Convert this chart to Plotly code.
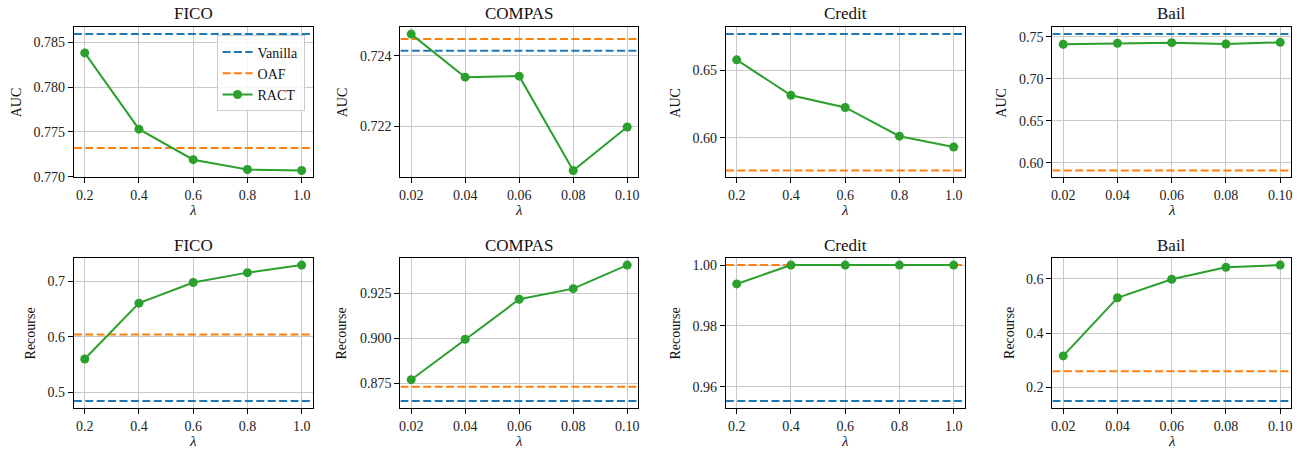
import plotly.graph_objects as go

# ---- data -------------------------------------------------------------
lam_large = [0.2, 0.4, 0.6, 0.8, 1.0]        # FICO, Credit
lam_small = [0.02, 0.04, 0.06, 0.08, 0.10]   # COMPAS, Bail

datasets = ["FICO", "COMPAS", "Credit", "Bail"]

fico_auc_ract = [0.7838, 0.7753, 0.7719, 0.7708, 0.7707]
fico_auc_vanilla = 0.7859
fico_auc_oaf = 0.7732

compas_auc_ract = [0.72461, 0.72339, 0.72342, 0.72075, 0.72198]
compas_auc_vanilla = 0.72414
compas_auc_oaf = 0.72447

credit_auc_ract = [0.6578, 0.6315, 0.6225, 0.6012, 0.5932]
credit_auc_vanilla = 0.6769
credit_auc_oaf = 0.5758

bail_auc_ract = [0.7411, 0.7423, 0.7430, 0.7414, 0.7434]
bail_auc_vanilla = 0.7532
bail_auc_oaf = 0.5911

fico_rec_ract = [0.5602, 0.6610, 0.6982, 0.7160, 0.7296]
fico_rec_vanilla = 0.4847
fico_rec_oaf = 0.6046

compas_rec_ract = [0.8770, 0.8995, 0.9217, 0.9276, 0.9407]
compas_rec_vanilla = 0.8652
compas_rec_oaf = 0.8731

credit_rec_ract = [0.9938, 1.0, 1.0, 1.0, 1.0]
credit_rec_vanilla = 0.9553
credit_rec_oaf = 1.0

bail_rec_ract = [0.3153, 0.5303, 0.5989, 0.6427, 0.6511]
bail_rec_vanilla = 0.1489
bail_rec_oaf = 0.2584

# tick labels
x_ticks_large = [0.2, 0.4, 0.6, 0.8, 1.0]
x_ticks_small = [0.02, 0.04, 0.06, 0.08, 0.10]
fico_auc_ticks = [0.770, 0.775, 0.780, 0.785]
compas_auc_ticks = [0.722, 0.724]
credit_auc_ticks = [0.60, 0.65]
bail_auc_ticks = [0.60, 0.65, 0.70, 0.75]
fico_rec_ticks = [0.5, 0.6, 0.7]
compas_rec_ticks = [0.875, 0.900, 0.925]
credit_rec_ticks = [0.96, 0.98, 1.00]
bail_rec_ticks = [0.2, 0.4, 0.6]

# ---- panel definitions ------------------------------------------------
panels = [
    ("FICO", "AUC", lam_large, x_ticks_large, ".1f", fico_auc_ract, fico_auc_vanilla, fico_auc_oaf, fico_auc_ticks, ".3f"),
    ("COMPAS", "AUC", lam_small, x_ticks_small, ".2f", compas_auc_ract, compas_auc_vanilla, compas_auc_oaf, compas_auc_ticks, ".3f"),
    ("Credit", "AUC", lam_large, x_ticks_large, ".1f", credit_auc_ract, credit_auc_vanilla, credit_auc_oaf, credit_auc_ticks, ".2f"),
    ("Bail", "AUC", lam_small, x_ticks_small, ".2f", bail_auc_ract, bail_auc_vanilla, bail_auc_oaf, bail_auc_ticks, ".2f"),
    ("FICO", "Recourse", lam_large, x_ticks_large, ".1f", fico_rec_ract, fico_rec_vanilla, fico_rec_oaf, fico_rec_ticks, ".1f"),
    ("COMPAS", "Recourse", lam_small, x_ticks_small, ".2f", compas_rec_ract, compas_rec_vanilla, compas_rec_oaf, compas_rec_ticks, ".3f"),
    ("Credit", "Recourse", lam_large, x_ticks_large, ".1f", credit_rec_ract, credit_rec_vanilla, credit_rec_oaf, credit_rec_ticks, ".2f"),
    ("Bail", "Recourse", lam_small, x_ticks_small, ".2f", bail_rec_ract, bail_rec_vanilla, bail_rec_oaf, bail_rec_ticks, ".1f"),
]

# ---- layout geometry (pixels) ----------------------------------------
W, H = 1305, 460
col_left = [73, 400, 726, 1053]
col_right = [312, 638, 965, 1292]
row_top = [27.7, 262.3]
row_bottom = [180, 414]
title_y = [13.7, 249]
xlabel_y = [213, 448]
ylabel_x = [[15, 341.5, 675.5, 1002], [29.5, 341, 675.5, 1009.5]]

BLUE, ORANGE, GREEN = "#1f77b4", "#ff7f0e", "#2ca02c"
FONT = "Liberation Serif, DejaVu Serif, serif"
DASH = "8px,3.4px"


def px_x(v):
    return v / W


def px_y(v):
    return 1 - v / H


def padded(lo, hi, frac=0.05):
    span = hi - lo
    return [lo - frac * span, hi + frac * span]


fig = go.Figure()
annotations = []
layout_axes = {}

for i, (name, metric, lam, xt, xfmt, ract, van, oaf, yt, yfmt) in enumerate(panels):
    r, c = divmod(i, 4)
    sfx = "" if i == 0 else str(i + 1)
    xref, yref = "x" + sfx, "y" + sfx
    xr = padded(min(lam), max(lam))
    allv = list(ract) + [van, oaf]
    yr = padded(min(allv), max(allv))
    show_leg = i == 0

    fig.add_trace(go.Scatter(
        x=xr, y=[van, van], mode="lines", name="Vanilla",
        line=dict(color=BLUE, width=2, dash=DASH),
        xaxis=xref, yaxis=yref, showlegend=show_leg, legendgroup="v"))
    fig.add_trace(go.Scatter(
        x=xr, y=[oaf, oaf], mode="lines", name="OAF",
        line=dict(color=ORANGE, width=2, dash=DASH),
        xaxis=xref, yaxis=yref, showlegend=show_leg, legendgroup="o"))
    fig.add_trace(go.Scatter(
        x=lam, y=ract, mode="lines+markers", name="RACT",
        line=dict(color=GREEN, width=2),
        marker=dict(color=GREEN, size=9),
        xaxis=xref, yaxis=yref, showlegend=show_leg, legendgroup="r"))

    axis_common = dict(
        showline=True, linecolor="black", linewidth=1, mirror=True,
        ticks="outside", ticklen=5, tickwidth=1, tickcolor="black",
        showgrid=True, gridcolor="#c8c8c8", gridwidth=1,
        zeroline=False,
        tickfont=dict(family=FONT, size=14, color="#222"),
    )
    layout_axes["xaxis" + sfx] = dict(
        axis_common,
        domain=[px_x(col_left[c]), px_x(col_right[c])],
        anchor=yref, range=xr, tickvals=xt, tickformat=xfmt,
    )
    layout_axes["yaxis" + sfx] = dict(
        axis_common,
        domain=[px_y(row_bottom[r]), px_y(row_top[r])],
        anchor=xref, range=yr, tickvals=yt, tickformat=yfmt,
    )

    cx = (col_left[c] + col_right[c]) / 2
    cy = (row_top[r] + row_bottom[r]) / 2
    annotations.append(dict(
        text=name, x=px_x(cx), y=px_y(title_y[r]), xref="paper", yref="paper",
        xanchor="center", yanchor="middle", showarrow=False,
        font=dict(family=FONT, size=17, color="#111")))
    annotations.append(dict(
        text="<i>λ</i>", x=px_x(cx), y=px_y(xlabel_y[r]), xref="paper", yref="paper",
        xanchor="center", yanchor="middle", showarrow=False,
        font=dict(family=FONT, size=15, color="#111")))
    annotations.append(dict(
        text=metric, x=px_x(ylabel_x[r][c]), y=px_y(cy), xref="paper", yref="paper",
        xanchor="center", yanchor="middle", textangle=-90, showarrow=False,
        font=dict(family=FONT, size=14, color="#111")))

fig.update_layout(
    width=W, height=H,
    margin=dict(l=0, r=0, t=0, b=0),
    paper_bgcolor="white", plot_bgcolor="white",
    font=dict(family=FONT, size=14, color="#111"),
    annotations=annotations,
    showlegend=True,
    legend=dict(
        x=px_x(304), y=px_y(36), xanchor="right", yanchor="top",
        bgcolor="rgba(255,255,255,0.85)", bordercolor="#cccccc", borderwidth=1,
        font=dict(family=FONT, size=14, color="#111"),
        tracegroupgap=0, itemwidth=30,
    ),
    **layout_axes,
)

fig.write_html("out.html")
